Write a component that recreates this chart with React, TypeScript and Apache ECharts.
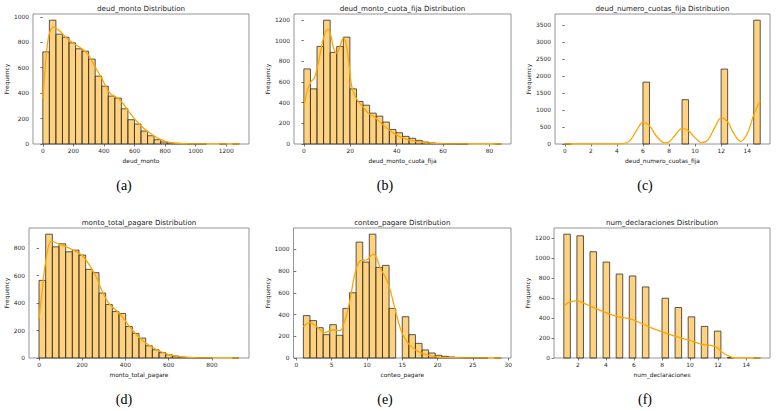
import React, { useEffect, useRef } from "react";
import * as echarts from "echarts";

// ---------- data ----------
const panelTitles = [
  "deud_monto Distribution",
  "deud_monto_cuota_fija Distribution",
  "deud_numero_cuotas_fija Distribution",
  "monto_total_pagare Distribution",
  "conteo_pagare Distribution",
  "num_declaraciones Distribution",
];
const xNames = [
  "deud_monto",
  "deud_monto_cuota_fija",
  "deud_numero_cuotas_fija",
  "monto_total_pagare",
  "conteo_pagare",
  "num_declaraciones",
];
const captions = ["(a)", "(b)", "(c)", "(d)", "(e)", "(f)"];

// data range (min, max) of each variable: 30 histogram bins span it
const dataRanges: [number, number][] = [
  [0, 1285],
  [0, 85],
  [0, 15],
  [0, 925],
  [1, 29],
  [1, 15],
];

const countsA = [725, 974, 864, 840, 796, 749, 730, 668, 534, 455, 377, 361, 277, 191, 157, 102, 65, 34, 16, 8, 5, 3, 2, 1, 1, 0, 0, 1, 0, 1];
const countsB = [727, 534, 945, 1199, 887, 945, 1035, 534, 412, 376, 299, 270, 212, 141, 109, 74, 55, 35, 19, 10, 6, 3, 2, 1, 1, 0, 0, 0, 0, 1];
const countsC = [2, 0, 0, 0, 0, 0, 0, 0, 0, 0, 0, 0, 1818, 0, 0, 0, 0, 0, 1300, 0, 0, 0, 0, 0, 2200, 0, 0, 0, 0, 3636];
const countsD = [565, 901, 809, 831, 773, 785, 749, 645, 621, 473, 389, 338, 324, 229, 179, 145, 89, 60, 39, 24, 14, 7, 4, 2, 1, 1, 0, 0, 0, 1];
const countsE = [390, 344, 279, 215, 307, 209, 457, 601, 1067, 883, 1140, 834, 853, 457, 0, 380, 215, 135, 74, 46, 25, 15, 9, 5, 3, 2, 1, 1, 0, 1];
const countsF = [1239, 0, 1223, 0, 1063, 0, 960, 0, 840, 0, 821, 0, 711, 0, 0, 598, 0, 505, 0, 412, 0, 316, 0, 269, 0, 5, 0, 0, 0, 1];

const kdeA = [[0, 360], [13, 560], [26, 740], [43, 870], [70, 919], [110, 890], [157, 832], [210, 785], [265, 741], [300, 700], [341, 610], [385, 518], [439, 400], [504, 348], [570, 243], [635, 152], [700, 86], [765, 39], [830, 13], [900, 4], [1000, 1], [1285, 0]];
const kdeB = [[0, 357], [1.5, 520], [3, 600], [4.5, 640], [6, 760], [7.5, 930], [9, 1070], [10.3, 1110], [11.5, 1060], [12.8, 930], [14.1, 880], [15.5, 940], [17, 1025], [18.3, 960], [19.5, 760], [20.6, 560], [22, 470], [23.4, 412], [25.5, 360], [27.7, 300], [30.5, 260], [33.4, 200], [36, 150], [39, 100], [42, 65], [45, 42], [48, 25], [51, 15], [56, 6], [62, 2], [70, 0.5], [85, 0]];
const kdeC = [[0, 0], [4, 0], [4.5, 8], [5, 100], [5.5, 390], [6, 635], [6.5, 540], [7, 250], [7.5, 50], [7.7, 35], [8, 60], [8.5, 270], [9, 460], [9.5, 390], [10, 180], [10.5, 40], [11, 130], [11.5, 480], [12, 770], [12.5, 650], [13, 290], [13.5, 80], [14, 300], [14.5, 850], [15, 1280]];
const kdeD = [[0, 287], [14, 480], [27, 662], [42, 800], [58, 850], [90, 830], [129, 807], [165, 780], [200, 746], [239, 662], [265, 590], [287, 505], [318, 408], [340, 370], [365, 336], [390, 290], [413, 239], [437, 195], [460, 155], [507, 94], [554, 53], [602, 24], [649, 10], [712, 3], [800, 1], [925, 0]];
const kdeE = [[1, 288], [1.9, 325], [2.9, 288], [4, 233], [5.2, 258], [6.2, 252], [6.9, 350], [7.6, 534], [8.3, 779], [9, 893], [9.5, 900], [10, 905], [10.9, 957], [11.4, 920], [11.8, 840], [12.8, 718], [13.4, 600], [14, 442], [14.9, 242], [15.85, 135], [16.5, 95], [17.3, 58], [18.7, 25], [20.1, 9], [22.5, 3], [25, 1], [29, 0]];
const kdeF = [[1, 518], [1.43, 561], [2, 571], [2.5, 545], [3, 512], [4, 455], [4.9, 412], [5.8, 389], [6.55, 345], [7.5, 286], [8.7, 229], [9.9, 179], [10.8, 140], [11.8, 113], [12.4, 47], [13, 7], [13.7, 0], [15, 0]];

const xTickStep = [200, 20, 2, 200, 5, 2];
const yTickStep = [200, 200, 500, 200, 200, 200];

const allCounts = [countsA, countsB, countsC, countsD, countsE, countsF];
const allKde = [kdeA, kdeB, kdeC, kdeD, kdeE, kdeF];

// ---------- layout ----------
const gridRects = [
  { left: 33, top: 14, width: 216, height: 130 },
  { left: 294, top: 14, width: 217, height: 130 },
  { left: 555, top: 14, width: 215, height: 130 },
  { left: 29, top: 228, width: 220, height: 130 },
  { left: 293.5, top: 228, width: 217.5, height: 130 },
  { left: 554, top: 228, width: 216, height: 130 },
];
const yNameGaps = [20.5, 21.5, 21.5, 16.5, 20.5, 20.5];
const captionPos = [
  [124, 185], [385, 185], [645, 185],
  [124, 399], [385, 399], [645, 399],
];

const FONT = "DejaVu Sans";
const BAR_FILL = "rgba(255,165,0,0.5)";
const BAR_EDGE = "#2e2e2e";
const KDE_COLOR = "#FFA500";
const FRAME = "#7a7a7a";
const plain = (v: number) => String(v);

export default function App() {
  const ref = useRef<HTMLDivElement>(null);

  useEffect(() => {
    if (!ref.current) return;
    const chart = echarts.init(ref.current, undefined, { renderer: "svg" });

    const grids: any[] = [];
    const xAxes: any[] = [];
    const yAxes: any[] = [];
    const series: any[] = [];
    const graphics: any[] = [];

    for (let i = 0; i < 6; i++) {
      const [lo, hi] = dataRanges[i];
      const span = hi - lo;
      const counts = allCounts[i];
      const nb = counts.length;
      const w = span / nb;
      const maxCount = Math.max(...counts);
      const g = gridRects[i];

      grids.push({
        ...g,
        show: true,
        borderColor: FRAME,
        borderWidth: 0.8,
        backgroundColor: "transparent",
        containLabel: false,
      });

      xAxes.push({
        gridIndex: i,
        type: "value",
        min: lo - span * 0.05,
        max: hi + span * 0.05,
        minInterval: xTickStep[i],
        maxInterval: xTickStep[i],
        axisLine: { show: false },
        axisTick: { show: true, length: 2.5, lineStyle: { color: "#555", width: 0.8 } },
        axisLabel: {
          fontSize: 5.9,
          color: "#2a2a2a",
          fontFamily: FONT,
          margin: 3.5,
          showMinLabel: false,
          showMaxLabel: false,
          formatter: plain,
        },
        splitLine: { show: false },
        name: xNames[i],
        nameLocation: "middle",
        nameGap: 13.5,
        nameTextStyle: { fontSize: 5.9, color: "#1a1a1a", fontFamily: FONT },
      });

      yAxes.push({
        gridIndex: i,
        type: "value",
        min: 0,
        max: maxCount * 1.05,
        minInterval: yTickStep[i],
        maxInterval: yTickStep[i],
        axisLine: { show: false },
        axisTick: { show: true, length: 2.5, lineStyle: { color: "#555", width: 0.8 } },
        axisLabel: {
          fontSize: 5.9,
          color: "#2a2a2a",
          fontFamily: FONT,
          margin: 4,
          showMaxLabel: false,
          formatter: plain,
        },
        splitLine: { show: false },
        name: "Frequency",
        nameLocation: "middle",
        nameGap: yNameGaps[i],
        nameTextStyle: { fontSize: 5.9, color: "#1a1a1a", fontFamily: FONT },
      });

      const histData = counts.map((c, k) => [lo + k * w, lo + (k + 1) * w, c]);
      series.push({
        type: "custom",
        xAxisIndex: i,
        yAxisIndex: i,
        data: histData,
        encode: { x: [0, 1], y: 2 },
        renderItem: (params: any, api: any) => {
          const x0 = api.value(0);
          const x1 = api.value(1);
          const h = api.value(2);
          if (!h) return null;
          const p0 = api.coord([x0, 0]);
          const p1 = api.coord([x1, h]);
          return {
            type: "rect",
            shape: { x: p0[0], y: p1[1], width: p1[0] - p0[0], height: p0[1] - p1[1] },
            style: { fill: BAR_FILL, stroke: BAR_EDGE, lineWidth: 0.8 },
          };
        },
        z: 2,
        silent: true,
      });

      series.push({
        type: "line",
        xAxisIndex: i,
        yAxisIndex: i,
        data: allKde[i],
        smooth: 0.35,
        showSymbol: false,
        symbol: "none",
        lineStyle: { color: KDE_COLOR, width: 1.3 },
        z: 3,
        silent: true,
      });

      graphics.push({
        type: "text",
        x: g.left + g.width / 2,
        y: g.top - 5.5,
        style: {
          text: panelTitles[i],
          fontSize: 7.1,
          fontFamily: FONT,
          fill: "#1a1a1a",
          textAlign: "center",
          textVerticalAlign: "middle",
        },
      });

      graphics.push({
        type: "text",
        x: captionPos[i][0],
        y: captionPos[i][1],
        style: {
          text: captions[i],
          fontSize: 14,
          fontFamily: "Liberation Serif, DejaVu Serif, serif",
          fill: "#000",
          textAlign: "center",
          textVerticalAlign: "middle",
        },
      });
    }

    chart.setOption({
      animation: false,
      backgroundColor: "#ffffff",
      grid: grids,
      xAxis: xAxes,
      yAxis: yAxes,
      series,
      graphic: graphics,
    });

    return () => chart.dispose();
  }, []);

  return (
    <div
      ref={ref}
      style={{ position: "fixed", left: 0, top: 0, width: 778, height: 411, background: "#fff" }}
    />
  );
}
